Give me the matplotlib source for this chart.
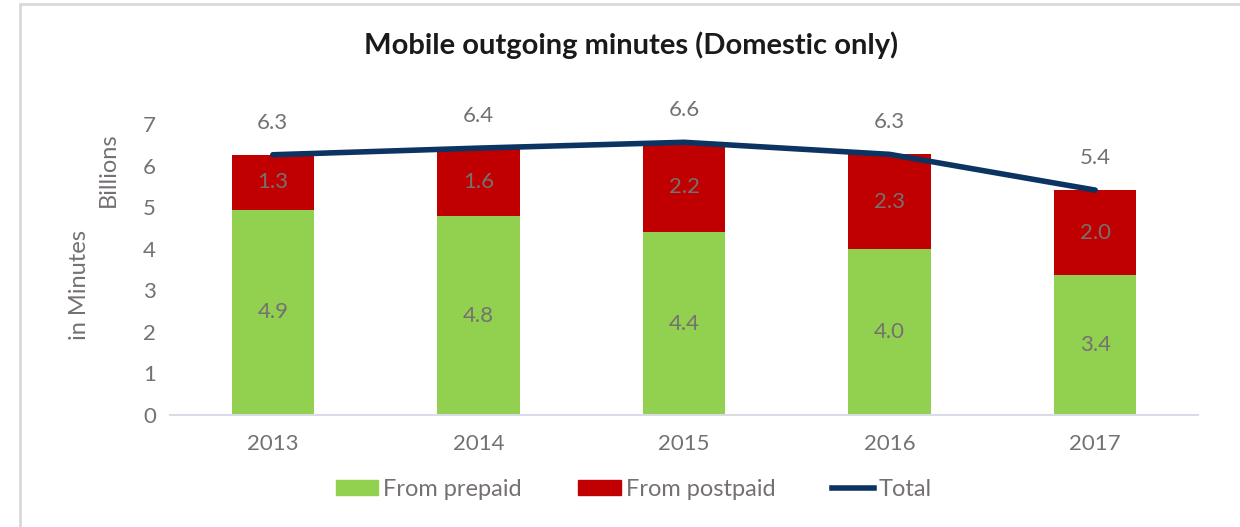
import matplotlib
matplotlib.use("Agg")
import matplotlib.pyplot as plt
from matplotlib.patches import Rectangle, Patch
from matplotlib.lines import Line2D
import numpy as np

# datos (miles de millones de minutos)
years = ["2013", "2014", "2015", "2016", "2017"]
prepaid = [4.94, 4.78, 4.40, 3.99, 3.37]
postpaid = [1.32, 1.64, 2.16, 2.28, 2.04]
total = [a + b for a, b in zip(prepaid, postpaid)]

plt.rcParams['font.family'] = ['Lato', 'DejaVu Sans']
gris = '#767171'
verde = '#92d050'
rojo = '#c00000'
azul = '#0b3463'
fs = 16

fig = plt.figure(figsize=(12.4, 5.27), dpi=100)
ax = fig.add_axes([170 / 1240, 1 - 415 / 527, 1028 / 1240, (415 - 124) / 527])

x = np.arange(len(years))
ax.bar(x, prepaid, width=0.4, color=verde, zorder=2)
ax.bar(x, postpaid, width=0.4, bottom=prepaid, color=rojo, zorder=2)
ax.plot(x, total, color=azul, linewidth=4, solid_capstyle='round', zorder=3)

# etiquetas de valores
for i in range(len(years)):
    ax.text(x[i], prepaid[i] / 2, f"{prepaid[i]:.1f}", ha='center', va='center',
            fontsize=fs, color=gris, zorder=4)
    ax.text(x[i], prepaid[i] + postpaid[i] / 2, f"{postpaid[i]:.1f}", ha='center',
            va='center', fontsize=fs, color=gris, zorder=4)
    ax.annotate(f"{total[i]:.1f}", (x[i], total[i]), xytext=(0, 16),
                textcoords='offset points', ha='center', va='bottom',
                fontsize=fs, color=gris)

ax.set_xlim(-0.5, 4.5)
ax.set_ylim(0, 7)
ax.set_xticks(x)
ax.set_xticklabels(years)
ax.set_yticks(range(0, 8))
ax.tick_params(axis='both', length=0, labelsize=fs, labelcolor=gris)
ax.tick_params(axis='x', pad=14)
ax.tick_params(axis='y', pad=10)
for s in ['top', 'right', 'left']:
    ax.spines[s].set_visible(False)
ax.spines['bottom'].set_color('#d9dce4')
ax.spines['bottom'].set_linewidth(1.5)

fig.text(80 / 1240, 1 - 285 / 527, "in Minutes", rotation=90, ha='center',
         va='center', fontsize=fs + 1, color=gris)
fig.text(108 / 1240, 1 - 170 / 527, "Billions", rotation=90, ha='center',
         va='center', fontsize=fs + 1, color=gris)
fig.text(631 / 1240, 1 - 45 / 527, "Mobile outgoing minutes (Domestic only)",
         ha='center', va='center', fontsize=21, fontweight='bold', color='#1a1a1a')

handles = [Patch(color=verde, label='From prepaid'),
           Patch(color=rojo, label='From postpaid'),
           Line2D([], [], color=azul, linewidth=4, label='Total')]
fig.legend(handles=handles, loc='center', bbox_to_anchor=(634 / 1240, 1 - 489 / 527),
           ncol=3, frameon=False, fontsize=fs + 1, labelcolor=gris,
           handlelength=1.8, handleheight=0.6, handletextpad=0.2, columnspacing=2.4)

# marco del gráfico
fig.patches.append(Rectangle((20 / 1240, -0.1), 1.2, 1 - 4 / 527 + 0.1,
                             transform=fig.transFigure, fill=False,
                             edgecolor='#d9d9d9', linewidth=2))

fig.savefig("out.png", dpi=100)
